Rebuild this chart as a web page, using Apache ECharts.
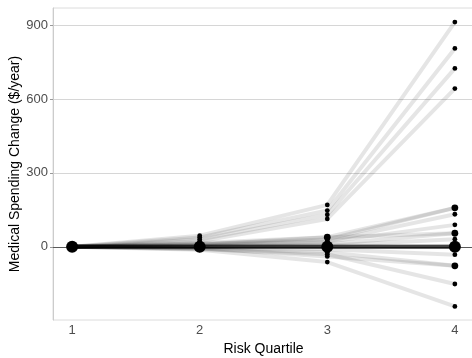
<!DOCTYPE html>
<html>
<head>
<meta charset="utf-8">
<script src="https://cdn.jsdelivr.net/npm/echarts@6/dist/echarts.min.js"></script>
<style>
html,body{margin:0;padding:0;background:#fff;}
#chart{width:472px;height:358px;}
</style>
</head>
<body>
<div id="chart"></div>
<script>
const riskQuartiles = [1, 2, 3, 4];
const yTicks = [0, 300, 600, 900];
const xTitle = 'Risk Quartile';
const yTitle = 'Medical Spending Change ($/year)';
// Each index is one line (group) across the four quartiles
const q1Change = [0, 0, 0, 0, 0, 0, 0, 0, 0, 0, 0, 0, 0, 0, 0, 0, 0, 0, 0, 0, 0, 0, 0, 0, 0, 0, 0, 0];
const q2Change = [45, 38, 30, 22, 15, 12, 10, 5, 8, 3, 2, -5, -8, -6, -10, -12, 0, 0, 0, 0, 0, 0, 0, 0, 0, 0, 0, 0];
const q3Change = [170, 147, 130, 113, 39, 30, 22, 20, 39, 10, 5, -10, -22, -39, -30, -62, 0, 0, 0, 0, 0, 0, 0, 0, 0, 0, 0, 0];
const q4Change = [912, 805, 724, 642, 158, 158, 132, 89, 55, 55, 31, -32, -77, -77, -151, -242, 0, 0, 0, 0, 0, 0, 0, 0, 0, 0, 0, 0];

const cols = [q1Change, q2Change, q3Change, q4Change];
const series = [];
for (let i = 0; i < q1Change.length; i++) {
  series.push({
    type: 'line',
    data: riskQuartiles.map((q, k) => [q, cols[k][i]]),
    showSymbol: false,
    symbol: 'none',
    silent: true,
    lineStyle: { color: 'rgba(0,0,0,0.1)', width: 4 },
    z: 1
  });
}
// points: size from number of lines sharing the point
const pts = [];
riskQuartiles.forEach((q, k) => {
  const counts = {};
  cols[k].forEach(v => { counts[v] = (counts[v] || 0) + 1; });
  Object.keys(counts).forEach(v => pts.push([q, Number(v), counts[v]]));
});
series.push({
  type: 'scatter',
  data: pts,
  symbolSize: d => Math.min(12, 4.8 * Math.sqrt(d[2])),
  itemStyle: { color: '#000', opacity: 1 },
  silent: true,
  z: 3
});

const FONT = 'Liberation Sans, Arial, sans-serif';
const chart = echarts.init(document.getElementById('chart'), null, { renderer: 'canvas' });
chart.setOption({
  animation: false,
  backgroundColor: '#fff',
  grid: { left: 53, right: -2, top: 8, bottom: 38, show: true, borderColor: '#dcdcdc', borderWidth: 1, containLabel: false, outerBoundsMode: 'none' },
  graphic: [{
    type: 'text',
    x: 15, y: 164,
    rotation: Math.PI / 2,
    style: { text: yTitle, fill: '#000', font: '14px ' + FONT, align: 'center', verticalAlign: 'middle' },
    silent: true
  }],
  xAxis: {
    type: 'value', min: 0.85, max: 4.15,
    name: xTitle, nameLocation: 'middle', nameGap: 22, nameMoveOverlap: false,
    nameTextStyle: { color: '#000', fontSize: 14, fontFamily: FONT },
    axisLine: { show: true, lineStyle: { color: '#595959', width: 1 } },
    axisTick: { show: true, length: 3, lineStyle: { color: '#595959' }, customValues: riskQuartiles },
    axisLabel: { color: '#4d4d4d', fontSize: 13, margin: 4, fontFamily: FONT, customValues: riskQuartiles },
    splitLine: { show: false }
  },
  yAxis: {
    type: 'value', min: -297, max: 969,
    axisLine: { show: true, lineStyle: { color: '#cccccc', width: 1 } },
    axisTick: { show: true, length: 3, lineStyle: { color: '#999999' }, customValues: yTicks },
    axisLabel: { color: '#4d4d4d', fontSize: 13, margin: 5, fontFamily: FONT, customValues: yTicks },
    splitLine: { show: true, lineStyle: { color: '#d6d6d6', width: 1 } }
  },
  series: series
});
</script>
</body>
</html>
